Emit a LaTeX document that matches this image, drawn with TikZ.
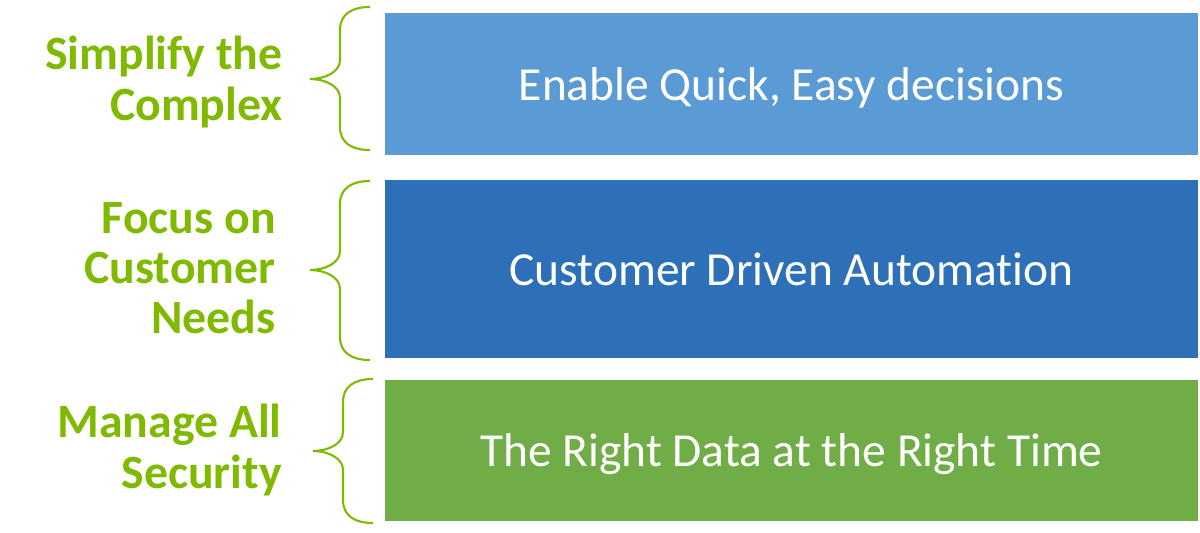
\documentclass[tikz,border=0pt]{standalone}
\usepackage{fontspec}
\setmainfont{Carlito}[Ligatures=NoCommon]
\usepackage{xcolor}
\definecolor{pillar-green}{HTML}{7FBA00}
\definecolor{light-blue}{HTML}{5B9BD5}
\definecolor{dark-blue}{HTML}{2E70B7}
\definecolor{leaf-green}{HTML}{70AD47}
\usepackage{tikz}

% curly brace: right x, top y, tip y, bottom y
\newcommand{\pillarbrace}[4]{%
  \draw[pillar-green, line width=1.2pt]
    (#1,#2) .. controls (#1-18,#2) and (#1-30,#2+7) .. (#1-30,#2+23)
    -- (#1-30,#3-19) .. controls (#1-30,#3-7) and (#1-45,#3) .. (#1-60,#3)
    .. controls (#1-45,#3) and (#1-30,#3+7) .. (#1-30,#3+19)
    -- (#1-30,#4-23) .. controls (#1-30,#4-7) and (#1-18,#4) .. (#1,#4);}

\tikzset{
  pillarbox/.style={minimum width=16.26cm, inner sep=0pt, text=white, text depth=0pt,
    font=\fontsize{27}{32}\selectfont},
  pillarlabel/.style={anchor=east, align=right, inner sep=0pt, text=pillar-green,
    font=\fontsize{27.2}{28.5}\selectfont\bfseries}
}

\begin{document}
\begin{tikzpicture}[x=0.02cm, y=-0.02cm]

    % Frame
    \useasboundingbox (0,0) rectangle (1200,532);

    % Boxes
    \node[pillarbox, fill=light-blue, minimum height=2.84cm] (quick) at (791.5,84) {Enable Quick, Easy decisions};
    \node[pillarbox, fill=dark-blue, minimum height=3.56cm] (automation) at (791.5,269) {Customer Driven Automation};
    \node[pillarbox, fill=leaf-green, minimum height=2.82cm] (data) at (791.5,450.5) {The Right Data at the Right Time};

    % Labels
    \node[pillarlabel] (simplify) at (283,82) {Simplify the\\Complex};
    \node[pillarlabel] (focus) at (276,268) {Focus on\\Customer\\Needs};
    \node[pillarlabel] (manage) at (282,450) {Manage All\\Security};

    % Braces
    \pillarbrace{370}{7}{79}{150}
    \pillarbrace{370}{181}{270}{360}
    \pillarbrace{373}{379}{451}{523}

\end{tikzpicture}
\end{document}
